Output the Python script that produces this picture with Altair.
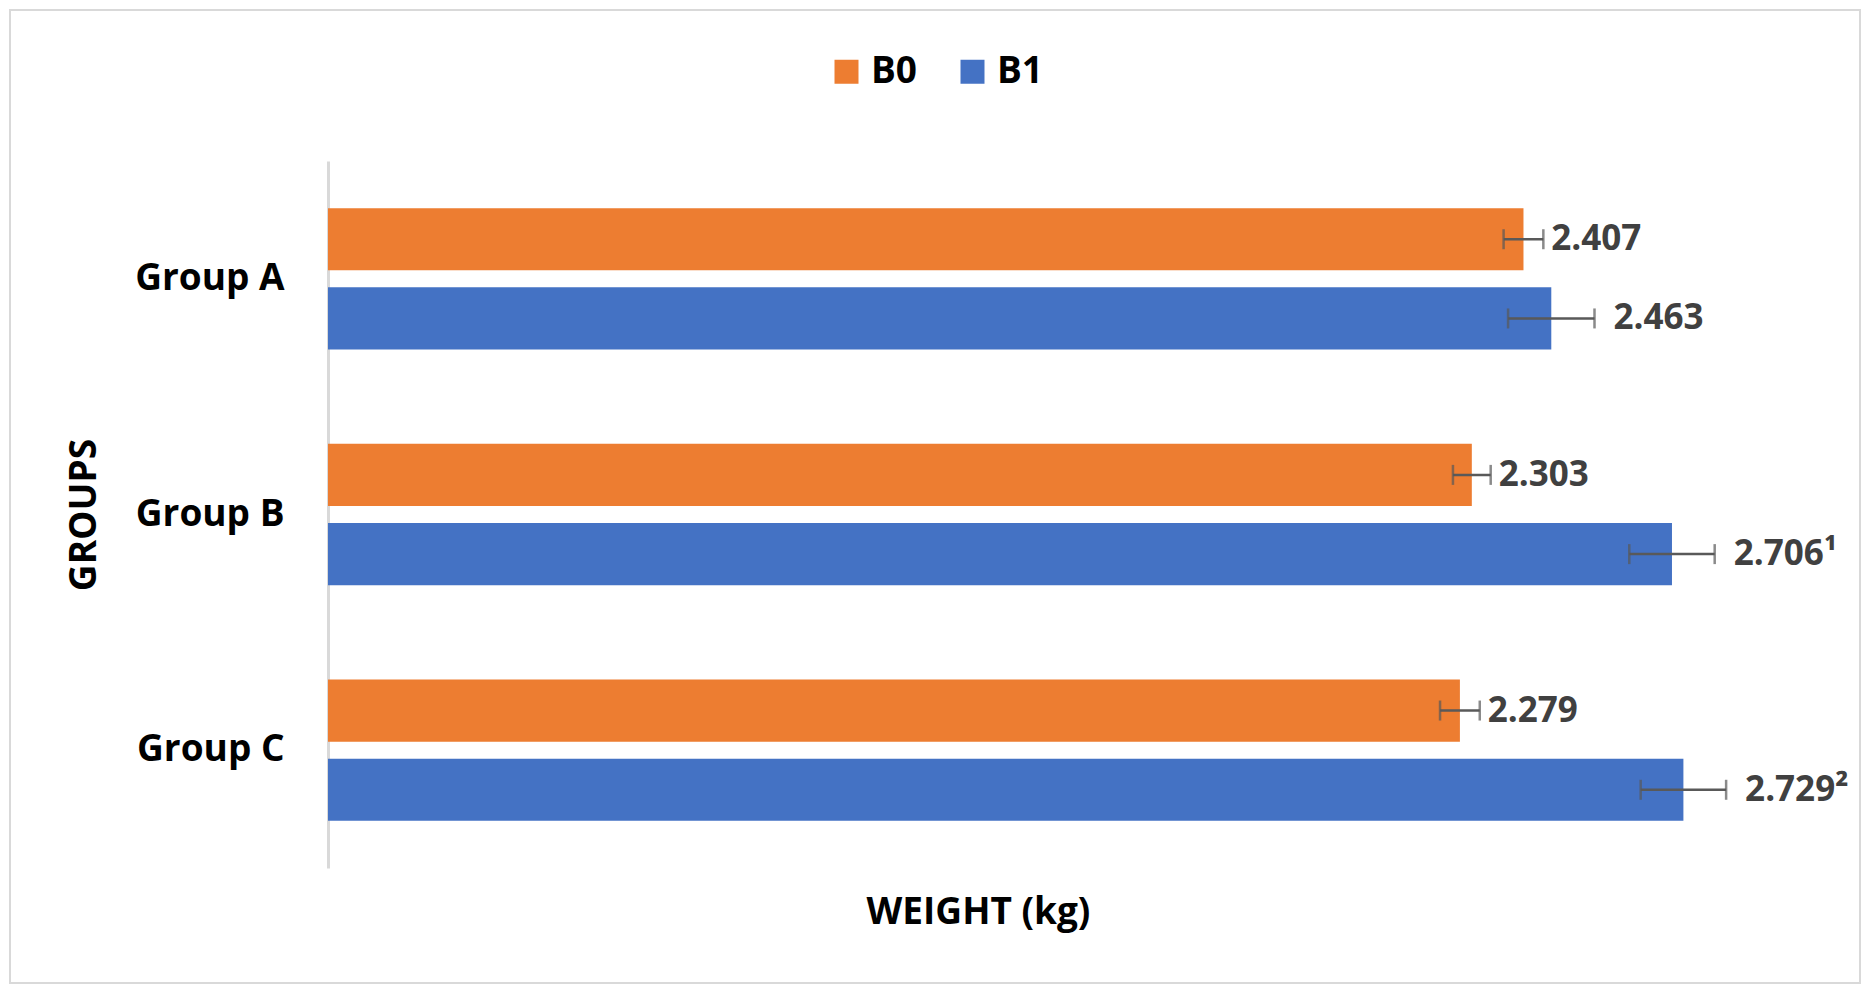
import altair as alt
import pandas as pd

groups = ["Group A", "Group A", "Group B", "Group B", "Group C", "Group C"]
series = ["B0", "B1", "B0", "B1", "B0", "B1"]
values = [2.407, 2.463, 2.303, 2.706, 2.279, 2.729]
errors = [0.040, 0.087, 0.038, 0.086, 0.040, 0.086]
labels = ["2.407", "2.463", "2.303", "2.706\u00b9", "2.279", "2.729\u00b2"]
group_order = ["Group A", "Group B", "Group C"]
series_order = ["B0", "B1"]
colors = ["#ED7D31", "#4472C4"]

df = pd.DataFrame({"group": groups, "series": series, "value": values,
                   "err": errors, "label": labels})

FONT = "Open Sans"

x_axis = alt.Axis(title="WEIGHT (kg)", labels=False, ticks=False, domain=False, grid=False,
                  titleFont=FONT, titleFontSize=37, titleFontWeight="bold", titleColor="black",
                  titleX=650, titleY=44, titleAlign="center", titleBaseline="middle")


def xenc(field):
    return alt.X(f"{field}:Q", scale=alt.Scale(domain=[0, 3], nice=False, zero=True),
                 axis=x_axis, title="WEIGHT (kg)")


y = alt.Y("group:N", sort=group_order,
          scale=alt.Scale(paddingInner=0.4, paddingOuter=0.2),
          axis=alt.Axis(title="GROUPS", titleFont=FONT, titleFontSize=37, titleFontWeight="bold",
                        titleColor="black", titleAngle=-90, titleX=-244, titleY=353.5,
                        titleAlign="center", titleBaseline="middle",
                        labelFont=FONT, labelFontSize=37, labelFontWeight="bold", labelColor="black",
                        labelPadding=44, ticks=False, grid=False,
                        domainColor="#d9d9d9", domainWidth=3))
yoff = alt.YOffset("series:N", sort=series_order,
                   scale=alt.Scale(paddingInner=0.215, paddingOuter=0))

base = alt.Chart(df).transform_calculate(
    lo="datum.value - datum.err", hi="datum.value + datum.err")

bars = base.mark_bar().encode(
    x=xenc("value"), y=y, yOffset=yoff,
    color=alt.Color("series:N", sort=series_order,
                    scale=alt.Scale(domain=series_order, range=colors),
                    legend=alt.Legend(orient="none", legendX=500, legendY=-108, direction="horizontal",
                                      title=None, symbolType="square", symbolSize=576,
                                      symbolStrokeWidth=0, labelFont=FONT, labelFontSize=37,
                                      labelFontWeight="bold", labelColor="black",
                                      labelOffset=6, columnPadding=36)),
)

rules = base.mark_rule(color="#595959", strokeWidth=2.5).encode(
    x=xenc("lo"), x2="hi:Q", y=y, yOffset=yoff)
cap_lo = base.mark_tick(color="#595959", thickness=2.5, size=20).encode(
    x=xenc("lo"), y=y, yOffset=yoff)
cap_hi = base.mark_tick(color="#595959", thickness=2.5, size=20).encode(
    x=xenc("hi"), y=y, yOffset=yoff)

text_kw = dict(align="left", baseline="middle", font=FONT, fontSize=35,
               fontWeight="bold", color="#404040")
text0 = base.transform_filter(alt.datum.series == "B0").mark_text(dx=8, **text_kw).encode(
    x=xenc("hi"), y=y, yOffset=yoff, text="label:N")
text1 = base.transform_filter(alt.datum.series == "B1").mark_text(dx=19, **text_kw).encode(
    x=xenc("hi"), y=y, yOffset=yoff, text="label:N")

border = alt.Chart(pd.DataFrame({"frame": [0]})).mark_rect(
    fill="transparent", stroke="#d9d9d9", strokeWidth=2).encode(
    x=alt.value(-318), x2=alt.value(1532), y=alt.value(-151), y2=alt.value(822))

chart = alt.layer(border, bars, rules, cap_lo, cap_hi, text0, text1).properties(
    width=1490, height=707,
    autosize=alt.AutoSizeParams(type="none"),
    padding={"left": 320, "top": 153, "right": 44, "bottom": 116},
    background="white",
).configure_view(strokeWidth=0)

chart.save("out.html", embed_options={"renderer": "svg", "actions": False})
